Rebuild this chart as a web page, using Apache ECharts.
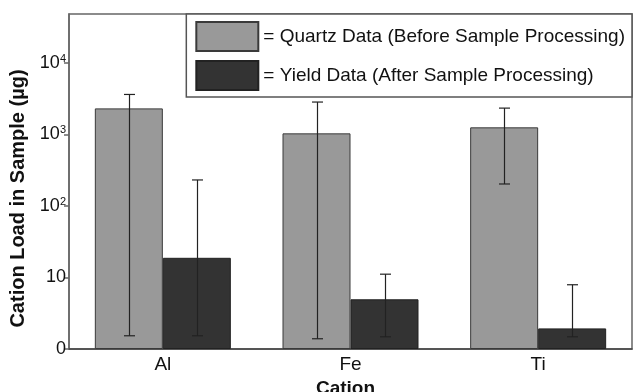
<!DOCTYPE html>
<html>
<head>
<meta charset="utf-8">
<script src="https://cdn.jsdelivr.net/npm/echarts@6/dist/echarts.min.js"></script>
<style>
  html, body { margin: 0; padding: 0; background: #fff; }
  #chart { width: 634px; height: 392px; }
</style>
</head>
<body>
<div id="chart"></div>
<script>
const cations = ['Al', 'Fe', 'Ti'];
const quartzLoad = [2300, 1030, 1250];
const quartzLow = [1.53, 1.39, 202];
const quartzHigh = [3600, 2820, 2320];
const yieldLoad = [18.8, 4.95, 1.94];
const yieldLow = [1.53, 1.48, 1.48];
const yieldHigh = [230, 11.1, 7.9];

const FONT = 'Liberation Sans, Arial, sans-serif';

function errorSeries(low, high, offset) {
  return {
    type: 'custom',
    silent: true,
    z: 5,
    data: cations.map((c, i) => [i, low[i], high[i]]),
    renderItem: function (params, api) {
      const lo = api.coord([api.value(0), api.value(1)]);
      const hi = api.coord([api.value(0), api.value(2)]);
      const x = Math.round(lo[0] + offset) + 0.5;
      const cap = 5.5;
      const style = { stroke: '#222', lineWidth: 1.2 };
      return {
        type: 'group',
        children: [
          { type: 'line', shape: { x1: x, y1: lo[1], x2: x, y2: hi[1] }, style: style },
          { type: 'line', shape: { x1: x - cap, y1: hi[1], x2: x + cap, y2: hi[1] }, style: style },
          { type: 'line', shape: { x1: x - cap, y1: lo[1], x2: x + cap, y2: lo[1] }, style: style }
        ]
      };
    }
  };
}

const chart = echarts.init(document.getElementById('chart'));
chart.setOption({
  animation: false,
  grid: { left: 69, top: 14, right: 2, bottom: 43, containLabel: false, outerBoundsMode: 'none' },
  legend: {
    data: ['Quartz Data (Before Sample Processing)', 'Yield Data (After Sample Processing)'],
    orient: 'vertical',
    right: 2,
    top: 14,
    padding: [7, 7, 6, 9],
    icon: 'rect',
    itemWidth: 62,
    itemHeight: 29,
    itemGap: 8,
    backgroundColor: '#fff',
    borderColor: '#555',
    borderWidth: 1.5,
    borderRadius: 0,
    formatter: '= {name}',
    textStyle: { fontFamily: FONT, fontSize: 19, color: '#111' }
  },
  xAxis: {
    type: 'category',
    data: cations,
    name: 'Cation',
    nameLocation: 'middle',
    nameGap: 28,
    nameTextStyle: { fontFamily: FONT, fontSize: 19, fontWeight: 'bold', color: '#111', padding: [0, 10, 0, 0] },
    axisLine: { lineStyle: { color: '#444', width: 1.5 } },
    axisTick: { show: false },
    axisLabel: { fontFamily: FONT, fontSize: 19, color: '#111', margin: 6 }
  },
  yAxis: {
    type: 'log',
    logBase: 10,
    min: 1,
    max: 47900,
    name: 'Cation Load in Sample (µg)',
    nameLocation: 'middle',
    nameGap: 40,
    nameTextStyle: { fontFamily: FONT, fontSize: 20, fontWeight: 'bold', color: '#111', padding: [0, 34, 0, 0] },
    axisLine: { show: true, lineStyle: { color: '#666', width: 1.5 } },
    axisTick: { show: true, inside: false, length: 5, lineStyle: { color: '#666', width: 1.5 } },
    splitLine: { show: false },
    axisLabel: {
      fontFamily: FONT,
      fontSize: 18,
      color: '#111',
      margin: 3,
      showMaxLabel: false,
      formatter: function (v) {
        const p = Math.round(Math.log10(v));
        if (p === 0) return '0';
        if (p === 1) return '10';
        return '10{sup|' + p + '}';
      },
      rich: {
        sup: { fontFamily: FONT, fontSize: 11, color: '#111', verticalAlign: 'top', padding: [0, 0, 8, 0] }
      }
    }
  },
  graphic: [
    {
      type: 'rect',
      silent: true,
      z: -1,
      shape: { x: 69, y: 14, width: 563, height: 335 },
      style: { fill: 'none', stroke: '#666', lineWidth: 1.5 }
    }
  ],
  series: [
    {
      name: 'Quartz Data (Before Sample Processing)',
      type: 'bar',
      data: quartzLoad,
      barWidth: 68,
      barGap: '0%',
      itemStyle: { color: '#999999', borderColor: '#3a3a3a', borderWidth: 1 }
    },
    {
      name: 'Yield Data (After Sample Processing)',
      type: 'bar',
      data: yieldLoad,
      barWidth: 68,
      barGap: '0%',
      itemStyle: { color: '#333333', borderColor: '#222', borderWidth: 1 }
    },
    errorSeries(quartzLow, quartzHigh, -34),
    errorSeries(yieldLow, yieldHigh, 34)
  ]
});
</script>
</body>
</html>
